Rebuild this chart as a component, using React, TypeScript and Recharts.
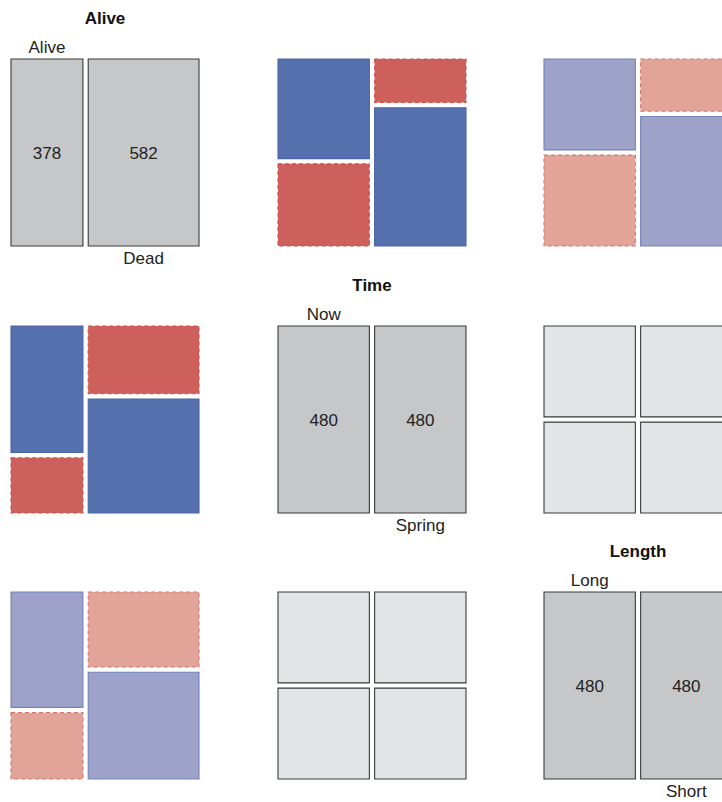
import React from 'react';
import { ComposedChart, XAxis, YAxis, ReferenceArea, Label } from 'recharts';

// variables of the pairs plot and their levels
const varNames = ['Alive', 'Time', 'Length'];
const aliveLevels = ['Alive', 'Dead'];
const timeLevels = ['Now', 'Spring'];
const lengthLevels = ['Long', 'Short'];
const levelNames = [aliveLevels, timeLevels, lengthLevels];

// cuttings per (Length, Time) cell: Long-Now, Long-Spring, Short-Now, Short-Spring
const cellTime = [0, 1, 0, 1];
const cellLength = [0, 0, 1, 1];
const aliveCounts = [156, 84, 107, 31];
const deadCounts = [84, 156, 133, 209];

const GAP = 0.028;
const PW = 188;
const PH = 187;
const PITCH = 266.5;
const M = { top: 50, left: 38, right: 38, bottom: 29 };
const FONT = '"Liberation Sans", Arial, sans-serif';
const FS = 17;
const dummy = [{ x: 0, y: 0 }];

type Rec = { lv: number[]; n: number };
const records: Rec[] = [];
cellTime.forEach((t, k) => {
    records.push({ lv: [0, t, cellLength[k]], n: aliveCounts[k] });
    records.push({ lv: [1, t, cellLength[k]], n: deadCounts[k] });
});

// 2x2 table: rows = levels of var i, cols = levels of var j
const crossTab = (i: number, j: number) => {
    const m = [[0, 0], [0, 0]];
    records.forEach((r) => { m[r.lv[i]][r.lv[j]] += r.n; });
    return m;
};

const styleFor = (res: number | null) => {
    if (res === null) return { fill: '#c6c7c9', stroke: '#3a3a3a', dash: undefined };
    if (res > 4) return { fill: '#5570ad', stroke: '#4a66aa', dash: undefined };
    if (res > 2) return { fill: '#9fa2c8', stroke: '#7283bb', dash: undefined };
    if (res < -4) return { fill: '#cd5f5c', stroke: '#d0504e', dash: '4 3' };
    if (res < -2) return { fill: '#e2a499', stroke: '#d9736d', dash: '4 3' };
    return { fill: '#e3e4e6', stroke: '#3a3a3a', dash: undefined };
};

type Tile = { x1: number; x2: number; y1: number; y2: number; res: number | null; n: number; col: number };

const tilesFor = (i: number, j: number): Tile[] => {
    const tiles: Tile[] = [];
    if (i === j) {
        const m = crossTab(i, i);
        const tot = [m[0][0] + m[1][0], m[0][1] + m[1][1]];
        const N = tot[0] + tot[1];
        let x = 0;
        tot.forEach((c, col) => {
            const w = (1 - GAP) * c / N;
            tiles.push({ x1: x, x2: x + w, y1: 0, y2: 1, res: null, n: c, col });
            x += w + GAP;
        });
        return tiles;
    }
    const m = crossTab(i, j);
    const colTot = [m[0][0] + m[1][0], m[0][1] + m[1][1]];
    const rowTot = [m[0][0] + m[0][1], m[1][0] + m[1][1]];
    const N = colTot[0] + colTot[1];
    let x = 0;
    colTot.forEach((c, col) => {
        const w = (1 - GAP) * c / N;
        let y = 0;
        [0, 1].forEach((row) => {
            const h = (1 - GAP) * m[row][col] / c;
            const e = rowTot[row] * c / N;
            const res = (m[row][col] - e) / Math.sqrt(e);
            tiles.push({ x1: x, x2: x + w, y1: y, y2: y + h, res, n: m[row][col], col });
            y += h + GAP;
        });
        x += w + GAP;
    });
    return tiles;
};

const Panel: React.FC<{ i: number; j: number }> = ({ i, j }) => {
    const tiles = tilesFor(i, j);
    const diag = i === j;
    return (
        <div style={{ position: 'absolute', left: 11 + j * PITCH - M.left, top: 59 + i * PITCH - M.top }}>
            <ComposedChart width={M.left + PW + M.right} height={M.top + PH + M.bottom} margin={M} data={dummy}>
                <XAxis type="number" dataKey="x" domain={[0, 1]} hide allowDataOverflow />
                <YAxis type="number" dataKey="y" domain={[0, 1]} reversed hide allowDataOverflow />
                {diag && (
                    <ReferenceArea x1={0} x2={1} y1={0} y2={1} fill="none" stroke="none" ifOverflow="visible">
                        <Label value={varNames[i]} position="top" offset={35} fill="#111" fontWeight="bold"
                            fontSize={FS} fontFamily={FONT} />
                    </ReferenceArea>
                )}
                {tiles.map((t, k) => {
                    const s = styleFor(t.res);
                    return (
                        <ReferenceArea key={k} x1={t.x1} x2={t.x2} y1={t.y1} y2={t.y2} fill={s.fill} fillOpacity={1}
                            stroke={s.stroke} strokeWidth={1.1} strokeDasharray={s.dash} ifOverflow="visible">
                            {diag && <Label value={String(t.n)} position="center" fill="#222" fontSize={FS} fontFamily={FONT} />}
                            {diag && (
                                <Label value={levelNames[i][t.col]} position={t.col === 0 ? 'top' : 'bottom'} offset={6}
                                    fill="#222" fontSize={FS} fontFamily={FONT} />
                            )}
                        </ReferenceArea>
                    );
                })}
            </ComposedChart>
        </div>
    );
};

const App: React.FC = () => {
    return (
        <div style={{ position: 'absolute', left: 0, top: 0, width: 722, height: 802, overflow: 'hidden', background: '#fff' }}>
            {[0, 1, 2].map((i) => [0, 1, 2].map((j) => <Panel key={`${i}-${j}`} i={i} j={j} />))}
        </div>
    );
};

export default App;
